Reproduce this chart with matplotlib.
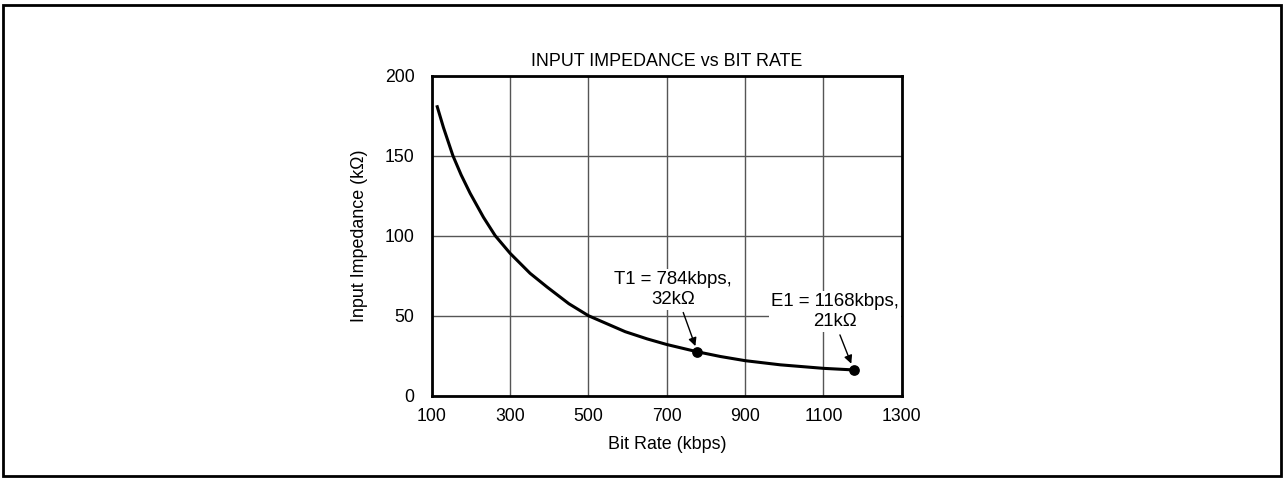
import matplotlib.pyplot as plt
from matplotlib.patches import Rectangle

plt.rcParams['font.family'] = ['Liberation Sans', 'DejaVu Sans']

# curve
bit_rate = [114, 130, 154, 175, 198, 232, 262, 300, 351, 394, 450, 500, 530, 594, 650, 700, 777, 837, 900, 990, 1100, 1178]
impedance = [180.6, 167.5, 150, 138, 126.5, 111.5, 100, 89, 76.5, 68, 57.5, 50, 46.8, 40, 35.5, 32, 27.5, 24.5, 21.9, 19.3, 17.1, 16.1]

# marked operating points
points_x = [777, 1178]
points_y = [27.5, 16.1]
point_labels = ['T1 = 784kbps,\n32k\u03a9', 'E1 = 1168kbps,\n21k\u03a9']
label_pos = [(716, 66.5), (1129, 52.5)]
arrow_tail = [(742, 52), (1142, 38)]
arrow_tip = [(773, 31), (1171, 20)]

x_ticks = [100, 300, 500, 700, 900, 1100, 1300]
y_ticks = [0, 50, 100, 150, 200]

fig = plt.figure(figsize=(12.85, 4.8), dpi=100)
ax = fig.add_axes([0.336, 0.1756, 0.3658, 0.6667])

ax.plot(bit_rate, impedance, color='black', linewidth=2.2, zorder=3,
        solid_joinstyle='round')
ax.scatter(points_x, points_y, s=45, color='black', zorder=4)

for (tx, ty), tail, tip, lab in zip(label_pos, arrow_tail, arrow_tip, point_labels):
    ax.text(tx, ty, lab, ha='center', va='center', fontsize=13.4, zorder=5,
            bbox=dict(facecolor='white', edgecolor='none', pad=1.5))
    ax.annotate('', xy=tip, xytext=tail,
                arrowprops=dict(arrowstyle='-|>', color='black', lw=1, mutation_scale=12,
                                shrinkA=0, shrinkB=0),
                zorder=6)

ax.set_xlim(100, 1300)
ax.set_ylim(0, 200)
ax.set_xticks(x_ticks)
ax.set_yticks(y_ticks)
ax.tick_params(length=0, labelsize=12.7)
ax.tick_params(axis='x', pad=9)
ax.tick_params(axis='y', pad=12.5)
ax.grid(True, color='#555555', linewidth=1)
ax.set_axisbelow(True)
for s in ax.spines.values():
    s.set_linewidth(2)

ax.set_title('INPUT IMPEDANCE vs BIT RATE', fontsize=12.9, pad=7)
ax.set_xlabel('Bit Rate (kbps)', fontsize=12.9, labelpad=8)
ax.set_ylabel('Input Impedance (k\u03a9)', fontsize=12.9, labelpad=12)

fig.patches.append(Rectangle((3 / 1285, 4 / 480), 1278 / 1285, 471 / 480,
                             transform=fig.transFigure, fill=False,
                             edgecolor='black', linewidth=2))

fig.savefig('out.png', dpi=100)
